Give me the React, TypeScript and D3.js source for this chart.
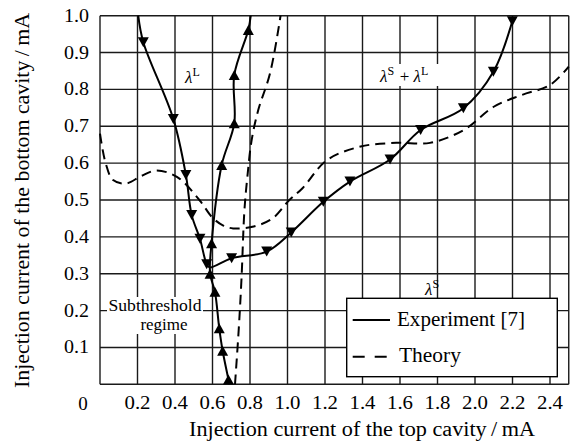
import React from "react";
import * as d3 from "d3";

type Pt = [number, number];

// ticks
const xTickValues = [0.2, 0.4, 0.6, 0.8, 1.0, 1.2, 1.4, 1.6, 1.8, 2.0, 2.2, 2.4];
const yTickValues = [0.1, 0.2, 0.3, 0.4, 0.5, 0.6, 0.7, 0.8, 0.9, 1.0];

// experiment: branch marked with down triangles (lambda L, then lambda S + lambda L)
const expDown: Pt[] = [
  [0.204, 1.0], [0.231, 0.928], [0.391, 0.72], [0.458, 0.568], [0.489, 0.459],
  [0.533, 0.395], [0.569, 0.326], [0.585, 0.317], [0.702, 0.342], [0.889, 0.36],
  [1.02, 0.412], [1.191, 0.495], [1.333, 0.55], [1.547, 0.61], [1.71, 0.69],
  [1.938, 0.749], [2.098, 0.848], [2.199, 0.985],
];
const expDownMarks: Pt[] = [
  [0.231, 0.928], [0.391, 0.72], [0.458, 0.568], [0.489, 0.459], [0.533, 0.395],
  [0.569, 0.326], [0.702, 0.342], [0.889, 0.36], [1.02, 0.412], [1.191, 0.495],
  [1.333, 0.55], [1.547, 0.61], [1.71, 0.69], [1.938, 0.749], [2.098, 0.848],
  [2.199, 0.985],
];

// experiment: branch marked with up triangles
const expUp: Pt[] = [
  [0.69, 0.0], [0.685, 0.013], [0.654, 0.091], [0.636, 0.152], [0.613, 0.251],
  [0.587, 0.3], [0.595, 0.383], [0.649, 0.595], [0.716, 0.708], [0.716, 0.839],
  [0.791, 0.961], [0.804, 1.0],
];
const expUpMarks: Pt[] = [
  [0.685, 0.013], [0.654, 0.091], [0.636, 0.152], [0.613, 0.251], [0.587, 0.3],
  [0.595, 0.383], [0.649, 0.595], [0.716, 0.708], [0.716, 0.839], [0.791, 0.961],
];

// theory (dashed)
const theoryMain: Pt[] = [
  [0.0, 0.68], [0.03, 0.6], [0.07, 0.554], [0.14, 0.545], [0.22, 0.565],
  [0.3, 0.58], [0.41, 0.563], [0.53, 0.5], [0.6, 0.452], [0.66, 0.43],
  [0.71, 0.423], [0.82, 0.428], [0.92, 0.45], [1.01, 0.5], [1.08, 0.532],
  [1.21, 0.608], [1.39, 0.645], [1.58, 0.655], [1.76, 0.655], [1.94, 0.69],
  [2.1, 0.753], [2.25, 0.785], [2.4, 0.812], [2.5, 0.862],
];
const theoryVertical: Pt[] = [
  [0.72, 0.0], [0.74, 0.15], [0.755, 0.29], [0.77, 0.47], [0.786, 0.563],
  [0.809, 0.663], [0.844, 0.744], [0.907, 0.844], [0.963, 1.0],
];

const FONT = "Liberation Serif, Times New Roman, serif";

const x = d3.scaleLinear().domain([0, 2.5]).range([100, 568.75]);
const y = d3.scaleLinear().domain([0, 1]).range([384.3, 15.7]);

const line = d3
  .line<Pt>()
  .x((d) => x(d[0]))
  .y((d) => y(d[1]))
  .curve(d3.curveCatmullRom.alpha(0.5));

const triUp = "M0,-5L5.5,5L-5.5,5Z";
const triDown = "M0,5L5.5,-5L-5.5,-5Z";

// lambda with superscript, e.g. λ^S
const Lam = ({ sup }: { sup: string }) => (
  <>
    <tspan fontStyle="italic">λ</tspan>
    <tspan fontSize={12} dy={-7}>
      {sup}
    </tspan>
    <tspan dy={7}>{"\u200a"}</tspan>
  </>
);

const App = () => {
  const gridColor = "#1a1a1a";
  return (
    <svg
      width={570}
      height={446}
      fontFamily={FONT}
      style={{ position: "absolute", left: 0, top: 0, background: "#fff", fontFamily: FONT }}
    >
      {/* grid */}
      {[0, ...xTickValues, 2.5].map((d) => (
        <line
          key={"v" + d}
          x1={x(d)}
          x2={x(d)}
          y1={y(0)}
          y2={y(1)}
          stroke={gridColor}
          strokeWidth={1.4}
        />
      ))}
      {[0, ...yTickValues].map((d) => (
        <line
          key={"h" + d}
          x1={x(0)}
          x2={x(2.5)}
          y1={y(d)}
          y2={y(d)}
          stroke={gridColor}
          strokeWidth={1.4}
        />
      ))}

      {/* tick labels */}
      {xTickValues.map((d) => (
        <text
          key={"xt" + d}
          x={x(d)}
          y={409}
          textAnchor="middle"
          fontFamily={FONT}
          fontSize={19}
          textLength={26}
          lengthAdjust="spacingAndGlyphs"
        >
          {d.toFixed(1)}
        </text>
      ))}
      <text x={83} y={410} textAnchor="middle" fontSize={19} fontFamily={FONT}>
        0
      </text>
      {yTickValues.map((d) => (
        <text
          key={"yt" + d}
          x={89}
          y={y(d) + 6}
          textAnchor="end"
          fontFamily={FONT}
          fontSize={19}
          textLength={25}
          lengthAdjust="spacingAndGlyphs"
        >
          {d.toFixed(1)}
        </text>
      ))}

      {/* axis titles */}
      <text
        x={362}
        y={436}
        textAnchor="middle"
        fontFamily={FONT}
        fontSize={20}
        textLength={346}
        lengthAdjust="spacingAndGlyphs"
      >
        {"Injection current of the top cavity\u2009/\u2009mA"}
      </text>
      <text
        transform="translate(29,200.5) rotate(-90)"
        textAnchor="middle"
        fontFamily={FONT}
        fontSize={20}
        textLength={375}
        lengthAdjust="spacingAndGlyphs"
      >
        {"Injection current of the bottom cavity\u2009/\u2009mA"}
      </text>

      {/* curves */}
      {[theoryMain, theoryVertical].map((data, i) => (
        <path
          key={"th" + i}
          d={line(data) || ""}
          fill="none"
          stroke="#000"
          strokeWidth={2}
          strokeDasharray="10,6"
        />
      ))}
      {[expDown, expUp].map((data, i) => (
        <path key={"ex" + i} d={line(data) || ""} fill="none" stroke="#000" strokeWidth={2} />
      ))}
      {expDownMarks.map((d, i) => (
        <path key={"md" + i} transform={`translate(${x(d[0])},${y(d[1])})`} d={triDown} fill="#000" />
      ))}
      {expUpMarks.map((d, i) => (
        <path key={"mu" + i} transform={`translate(${x(d[0])},${y(d[1])})`} d={triUp} fill="#000" />
      ))}

      {/* region labels */}
      <rect x={107} y={297} width={96} height={37} fill="#fff" />
      <text
        x={155}
        y={311}
        textAnchor="middle"
        fontFamily={FONT}
        fontSize={17}
        textLength={93}
        lengthAdjust="spacingAndGlyphs"
      >
        Subthreshold
      </text>
      <text x={164} y={330} textAnchor="middle" fontSize={17} fontFamily={FONT}>
        regime
      </text>

      <text x={185} y={83} fontSize={17} fontFamily={FONT}>
        <Lam sup="L" />
      </text>
      <rect x={377} y={64} width={66} height={22} fill="#fff" />
      <text x={380} y={82} fontSize={17} fontFamily={FONT}>
        <Lam sup="S" />
        <tspan>{" + "}</tspan>
        <Lam sup="L" />
      </text>
      <text x={425} y={295} fontSize={17} fontFamily={FONT}>
        <Lam sup="S" />
      </text>

      {/* legend */}
      <rect
        x={346.7}
        y={298.3}
        width={210.6}
        height={78.4}
        fill="#fff"
        stroke="#000"
        strokeWidth={1.4}
      />
      <line x1={352.7} x2={390} y1={320} y2={320} stroke="#000" strokeWidth={2} />
      <line
        x1={352.7}
        x2={390}
        y1={356.7}
        y2={356.7}
        stroke="#000"
        strokeWidth={2}
        strokeDasharray="12,10"
      />
      <text
        x={397}
        y={325.5}
        fontFamily={FONT}
        fontSize={20}
        textLength={128}
        lengthAdjust="spacingAndGlyphs"
      >
        Experiment [7]
      </text>
      <text
        x={399}
        y={362}
        fontFamily={FONT}
        fontSize={20}
        textLength={62}
        lengthAdjust="spacingAndGlyphs"
      >
        Theory
      </text>
    </svg>
  );
};

export default App;
